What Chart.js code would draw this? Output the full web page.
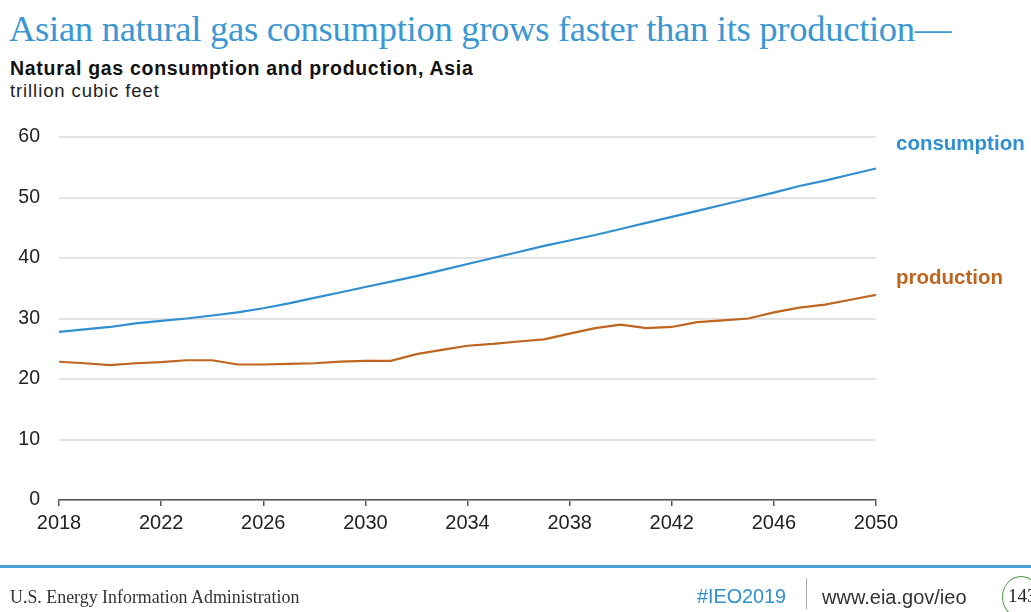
<!DOCTYPE html>
<html>
<head>
<meta charset="utf-8">
<script src="https://cdn.jsdelivr.net/npm/chart.js@4/dist/chart.umd.min.js"></script>
<style>
  html, body { margin: 0; padding: 0; background: #fff; }
  body { width: 1031px; height: 612px; position: relative; overflow: hidden; }
  #wrap { position: absolute; left: 0; top: 0; width: 1031px; height: 612px; }
  .t { position: absolute; white-space: nowrap; }
  #title { left: 9px; top: 7px; font-family: "Liberation Serif", "DejaVu Serif", serif; font-size: 36.6px; color: #3a97d3; letter-spacing: -0.3px; }
  #sub { left: 10px; top: 57px; font-family: "Liberation Sans", Arial, sans-serif; font-weight: bold; font-size: 19.5px; letter-spacing: 0.7px; color: #111; }
  #unit { left: 10px; top: 80px; font-family: "Liberation Sans", Arial, sans-serif; font-size: 18.5px; letter-spacing: 0.9px; color: #222; }
  #lblC { left: 896px; top: 131px; font-family: "Liberation Sans", Arial, sans-serif; font-weight: bold; font-size: 20.5px; color: #2f8fd0; }
  #lblP { left: 896px; top: 265px; font-family: "Liberation Sans", Arial, sans-serif; font-weight: bold; font-size: 20.5px; color: #c0651f; }
  #rule { position: absolute; left: 0; top: 565px; width: 1031px; height: 3px; background: #4a9fd4; }
  #eia { left: 10px; top: 587px; font-family: "Liberation Serif", serif; font-size: 17.9px; color: #333; }
  #tag { left: 697px; top: 585px; font-family: "Liberation Sans", Arial, sans-serif; font-size: 19.8px; color: #2f8fd0; }
  #sep { position: absolute; left: 806px; top: 578px; width: 1px; height: 31px; background: #aaa; }
  #url { left: 822px; top: 586px; font-family: "Liberation Sans", Arial, sans-serif; font-size: 20px; color: #333; }
  #pg { position: absolute; left: 1002px; top: 576px; width: 38px; height: 42px; border: 1.5px solid #4f9a48; border-radius: 50%; box-sizing: border-box; }
  #pgn { left: 1008px; top: 585px; font-family: "Liberation Serif", serif; font-size: 19px; color: #222; }
</style>
</head>
<body>
<div class="t" id="title">Asian natural gas consumption grows faster than its production—</div>
<div class="t" id="sub">Natural gas consumption and production, Asia</div>
<div class="t" id="unit">trillion cubic feet</div>
<div id="wrap"><canvas id="c" width="1031" height="612"></canvas></div>
<div class="t" id="lblC">consumption</div>
<div class="t" id="lblP">production</div>
<div id="rule"></div>
<div class="t" id="eia">U.S. Energy Information Administration</div>
<div class="t" id="tag">#IEO2019</div>
<div id="sep"></div>
<div class="t" id="url">www.eia.gov/ieo</div>
<div id="pg"></div>
<div class="t" id="pgn">143</div>
<script>
const years = [2018,2019,2020,2021,2022,2023,2024,2025,2026,2027,2028,2029,2030,2031,2032,2033,2034,2035,2036,2037,2038,2039,2040,2041,2042,2043,2044,2045,2046,2047,2048,2049,2050];
const consumption = [27.8,28.2,28.6,29.2,29.6,30.0,30.5,31.0,31.7,32.5,33.4,34.3,35.2,36.1,37.0,38.0,39.0,40.0,41.0,42.0,42.9,43.8,44.8,45.8,46.8,47.8,48.8,49.8,50.8,51.9,52.8,53.8,54.8];
const production = [22.85,22.6,22.3,22.6,22.8,23.1,23.1,22.4,22.4,22.5,22.6,22.86,23.0,23.0,24.1,24.8,25.5,25.8,26.2,26.55,27.5,28.4,29.0,28.4,28.6,29.4,29.7,30.0,31.0,31.8,32.3,33.1,33.9];
const xTicks = [2018,2022,2026,2030,2034,2038,2042,2046,2050];
const yTicks = [0,10,20,30,40,50,60];

const toPts = arr => years.map((y, i) => ({x: y, y: arr[i]}));

new Chart(document.getElementById('c'), {
  type: 'line',
  data: {
    datasets: [
      { label: 'consumption', data: toPts(consumption), borderColor: '#2f8fd0', borderWidth: 2.2, pointRadius: 0, tension: 0, fill: false },
      { label: 'production', data: toPts(production), borderColor: '#c0651f', borderWidth: 2.2, pointRadius: 0, tension: 0, fill: false }
    ]
  },
  options: {
    responsive: false,
    animation: false,
    devicePixelRatio: 1,
    layout: { padding: { left: 0, right: 155, top: 137, bottom: 72 } },
    plugins: { legend: { display: false }, tooltip: { enabled: false } },
    scales: {
      x: {
        type: 'linear',
        min: 2018, max: 2050,
        afterBuildTicks: s => { s.ticks = xTicks.map(v => ({value: v})); },
        afterFit: s => { s.height = 40; },
        border: { display: true, color: '#555', width: 1.5 },
        grid: { display: true, drawOnChartArea: false, drawTicks: true, tickLength: 6, tickColor: '#555', lineWidth: 1.5 },
        ticks: { padding: 5, color: '#222', font: { family: 'Liberation Sans, Arial, sans-serif', size: 20 }, maxRotation: 0, autoSkip: false, callback: v => String(v) }
      },
      y: {
        min: 0, max: 60,
        afterBuildTicks: s => { s.ticks = yTicks.map(v => ({value: v})); },
        afterFit: s => { s.width = 59; },
        border: { display: false },
        grid: { color: '#e3e3e3', lineWidth: 2, drawTicks: false },
        ticks: { padding: 19, color: '#222', font: { family: 'Liberation Sans, Arial, sans-serif', size: 19.5 } }
      }
    }
  }
});
</script>
</body>
</html>
